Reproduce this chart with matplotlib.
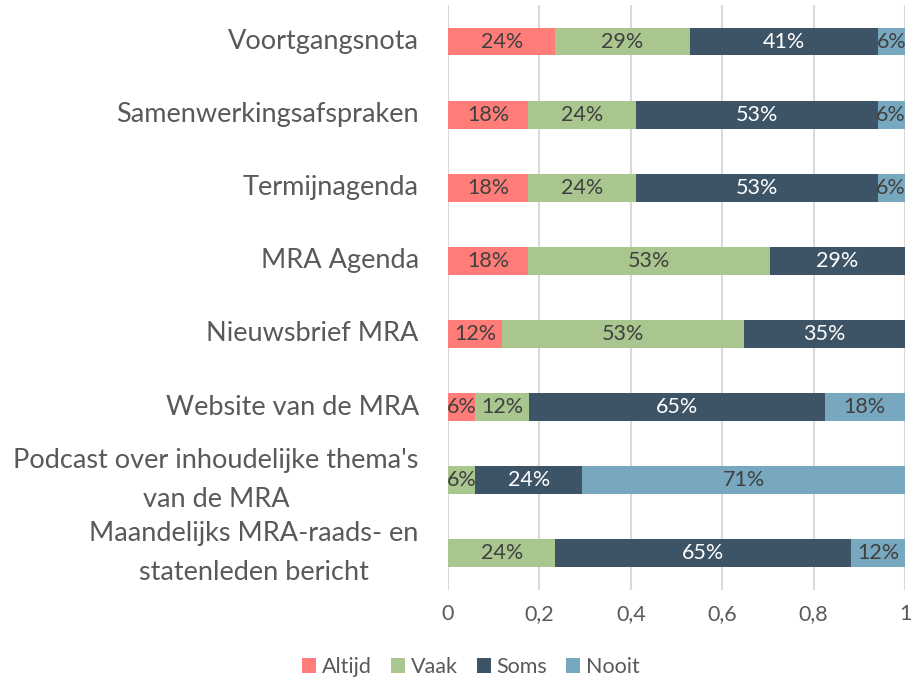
import matplotlib
matplotlib.use("Agg")
import matplotlib.pyplot as plt
import numpy as np

plt.rcParams["font.family"] = ["Lato", "DejaVu Sans"]

categories = [
    "Voortgangsnota",
    "Samenwerkingsafspraken",
    "Termijnagenda",
    "MRA Agenda",
    "Nieuwsbrief MRA",
    "Website van de MRA",
    "Podcast over inhoudelijke thema's\nvan de MRA",
    "Maandelijks MRA-raads- en\nstatenleden bericht",
]
altijd = [0.235, 0.176, 0.176, 0.176, 0.118, 0.059, 0.0, 0.0]
vaak = [0.294, 0.235, 0.235, 0.529, 0.529, 0.118, 0.059, 0.235]
soms = [0.412, 0.529, 0.529, 0.294, 0.353, 0.647, 0.235, 0.647]
nooit = [0.059, 0.059, 0.059, 0.0, 0.0, 0.176, 0.706, 0.118]

grijs = "#595959"
series = [
    ("Altijd", altijd, "#FF7C78", "#404040"),
    ("Vaak", vaak, "#A9C68F", "#404040"),
    ("Soms", soms, "#3D5366", "white"),
    ("Nooit", nooit, "#78A8C0", "#404040"),
]

fig = plt.figure(figsize=(9.11, 6.78), dpi=100)
ax = fig.add_axes([0.4918, 0.130, 0.5016, 0.8626])

y = np.arange(len(categories))
left = np.zeros(len(categories))
for naam, vals, kleur, tekst in series:
    vals = np.array(vals)
    ax.barh(y, vals, left=left, height=0.38, color=kleur, label=naam, zorder=3)
    for yi, l, v in zip(y, left, vals):
        if v > 0:
            ax.text(l + v / 2, yi, f"{v * 100:.0f}%", ha="center", va="center",
                    fontsize=15.5, color=tekst, zorder=4)
    left += vals

ax.set_ylim(len(categories) - 0.5, -0.5)
ax.set_xlim(0, 1)
ax.set_yticks(y)
ax.set_yticklabels(categories, fontsize=19.5, color=grijs, multialignment="center",
                   linespacing=1.7, va="center")
ax.set_xticks([0, 0.2, 0.4, 0.6, 0.8, 1])
ax.set_xticklabels(["0", "0,2", "0,4", "0,6", "0,8", "1"], fontsize=15.5, color=grijs)
ax.tick_params(length=0)
ax.tick_params(axis="y", pad=21)
ax.tick_params(axis="x", pad=10)
ax.grid(axis="x", color="#D9D9D9", linewidth=1.5, zorder=0)
for s in ax.spines.values():
    s.set_visible(False)

fig.legend(loc="lower center", bbox_to_anchor=(0.517, -0.027), ncol=4, frameon=False,
           fontsize=15.5, handlelength=0.65, handleheight=0.65, handletextpad=0.25,
           columnspacing=0.9, labelcolor=grijs)

fig.savefig("out.png", dpi=100)
